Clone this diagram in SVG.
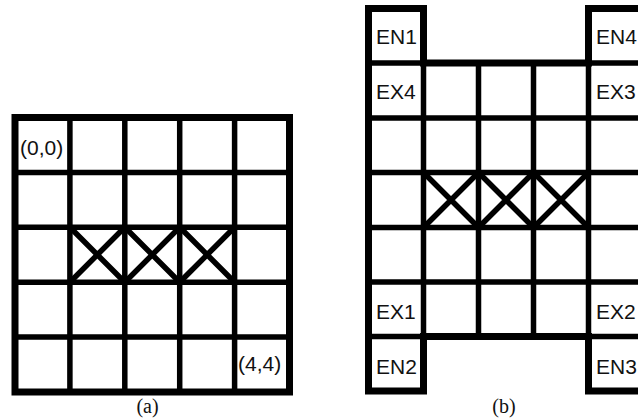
<svg xmlns="http://www.w3.org/2000/svg" width="638" height="420" viewBox="0 0 638 420">
<style>
.outer{fill:none;stroke:#000;stroke-width:7;stroke-linejoin:miter}
.inner{fill:none;stroke:#000;stroke-width:5.5}
.x{fill:none;stroke:#000;stroke-width:5.5}
.lbl{font-family:"Liberation Sans",Arial,sans-serif;font-size:21px;fill:#111}
.cap{font-family:"Liberation Serif","Times New Roman",serif;font-size:20px;fill:#111;text-anchor:middle}
</style>
<rect width="638" height="420" fill="#fff"/>
<g id="gridA">
<rect class="outer" x="15" y="117.5" width="274.5" height="274.5"/>
<path class="inner" d="M69.9 117.5V392M124.8 117.5V392M179.7 117.5V392M234.6 117.5V392M15 172.4H289.5M15 227.3H289.5M15 282.2H289.5M15 337.1H289.5"/>
<path class="x" d="M69.9 227.3L124.8 282.2M124.8 227.3L69.9 282.2M124.8 227.3L179.7 282.2M179.7 227.3L124.8 282.2M179.7 227.3L234.6 282.2M234.6 227.3L179.7 282.2"/>
<text class="lbl" x="20" y="155">(0,0)</text>
<text class="lbl" x="238" y="371">(4,4)</text>
<text class="cap" x="147.5" y="413">(a)</text>
</g>
<g id="gridB">
<path class="outer" d="M368.5 8.5H423.5V63H588.5V8.5H643.5V391H588.5V336.5H423.5V391H368.5Z"/>
<path class="inner" d="M368.5 63H643.5M368.5 118H643.5M368.5 172.5H643.5M368.5 227.5H643.5M368.5 282H643.5M368.5 336.5H643.5M423.5 8.5V391M478.5 63V336.5M533.5 63V336.5M588.5 8.5V391"/>
<path class="x" d="M423.5 172.5L478.5 227.5M478.5 172.5L423.5 227.5M478.5 172.5L533.5 227.5M533.5 172.5L478.5 227.5M533.5 172.5L588.5 227.5M588.5 172.5L533.5 227.5"/>
<text class="lbl" x="376" y="44" font-size="22">EN1</text>
<text class="lbl" x="376" y="99" font-size="22">EX4</text>
<text class="lbl" x="376" y="319" font-size="22">EX1</text>
<text class="lbl" x="376" y="374" font-size="22">EN2</text>
<text class="lbl" x="596" y="44" font-size="22">EN4</text>
<text class="lbl" x="596" y="99" font-size="22">EX3</text>
<text class="lbl" x="596" y="319" font-size="22">EX2</text>
<text class="lbl" x="596" y="374" font-size="22">EN3</text>
<text class="cap" x="504" y="413">(b)</text>
</g>
</svg>
